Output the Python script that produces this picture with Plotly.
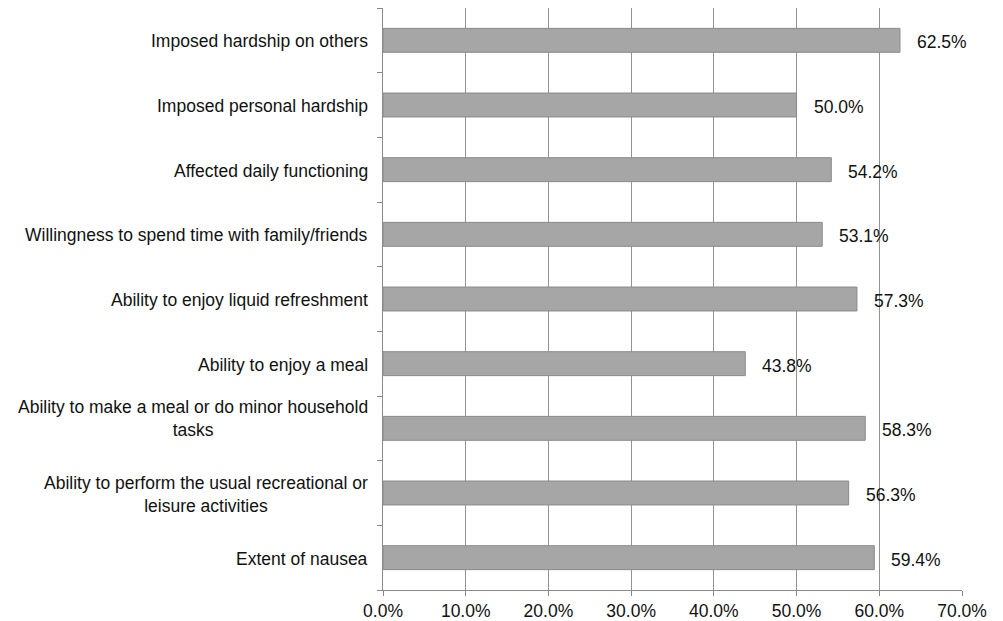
import plotly.graph_objects as go

categories = [
    "Extent of nausea",
    "Ability to perform the usual recreational or<br>leisure activities",
    "Ability to make a meal or do minor household<br>tasks",
    "Ability to enjoy a meal",
    "Ability to enjoy liquid refreshment",
    "Willingness to spend time with family/friends",
    "Affected daily functioning",
    "Imposed personal hardship",
    "Imposed hardship on others",
]
values = [59.4, 56.3, 58.3, 43.8, 57.3, 53.1, 54.2, 50.0, 62.5]
x_ticks = [0, 10, 20, 30, 40, 50, 60, 70]
x_tick_labels = ["0.0%", "10.0%", "20.0%", "30.0%", "40.0%", "50.0%", "60.0%", "70.0%"]

FONT = "Liberation Sans, Arial, sans-serif"
TEXT_SIZE = 17.5
TEXT_COLOR = "#111111"

# vertical nudges (px) for individual category labels
label_nudge = {
    "Ability to make a meal or do minor household<br>tasks": 10,
    "Ability to perform the usual recreational or<br>leisure activities": -1,
}

fig = go.Figure(
    go.Bar(
        x=values,
        y=categories,
        orientation="h",
        marker=dict(color="#a6a6a6", line=dict(color="#8a8a8a", width=1)),
        width=0.37,
    )
)

# value labels to the right of each bar
for cat, v in zip(categories, values):
    fig.add_annotation(
        x=v, y=cat, text=f"{v:.1f}%", showarrow=False,
        xanchor="left", xshift=15, yshift=-2,
        font=dict(family=FONT, size=TEXT_SIZE, color=TEXT_COLOR),
    )

# category labels, lines centred within each label block
for cat in categories:
    fig.add_annotation(
        x=0, xref="paper", y=cat, text=cat, showarrow=False,
        xanchor="right", align="center", xshift=-13,
        yshift=label_nudge.get(cat, -1),
        font=dict(family=FONT, size=TEXT_SIZE, color=TEXT_COLOR),
    )

fig.update_layout(
    width=1003, height=621,
    margin=dict(l=383, r=41, t=8, b=31),
    paper_bgcolor="white", plot_bgcolor="white",
    showlegend=False,
    font=dict(family=FONT, size=TEXT_SIZE, color=TEXT_COLOR),
)
fig.update_xaxes(
    range=[0, 70], tickvals=x_ticks, ticktext=x_tick_labels,
    showgrid=True, gridcolor="#939393", gridwidth=1,
    showline=True, linecolor="#8a8a8a", linewidth=1,
    ticks="outside", ticklen=5, tickcolor="#8a8a8a",
    zeroline=False, fixedrange=True, automargin=False,
)
fig.update_yaxes(
    type="category", categoryorder="array", categoryarray=categories,
    range=[-0.5, len(categories) - 0.5],
    showticklabels=False, tickson="boundaries",
    ticks="outside", ticklen=5, tickcolor="#8a8a8a",
    showline=True, linecolor="#8a8a8a", linewidth=1,
    showgrid=False, zeroline=False, automargin=False,
)

fig.write_html("out.html")
